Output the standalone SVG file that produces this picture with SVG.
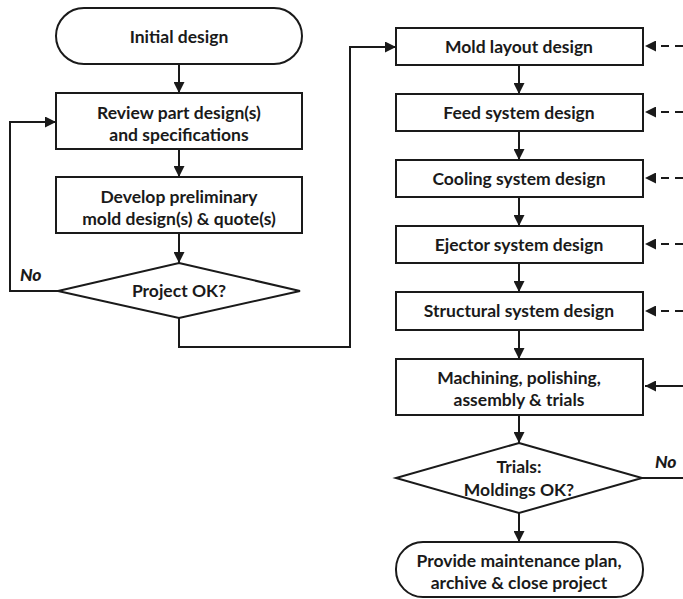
<svg xmlns="http://www.w3.org/2000/svg" width="683" height="599" viewBox="0 0 683 599">
<style>
.n{fill:#fff;stroke:#1a1a1a;stroke-width:2}
.t{font-family:Lato,"Open Sans",sans-serif;font-weight:bold;font-size:17.5px;fill:#1a1a1a;text-anchor:middle}
.c{fill:none;stroke:#1a1a1a;stroke-width:2}
.d{stroke-dasharray:8,6}
.l{font-family:Lato,"Open Sans",sans-serif;font-weight:900;font-style:italic;font-size:17.5px;fill:#1a1a1a}
</style>
<defs>
<marker id="a" viewBox="0 0 10 10" refX="10" refY="5" markerWidth="5.5" markerHeight="5.5" orient="auto" markerUnits="strokeWidth"><path d="M0,0L10,5L0,10z" fill="#1a1a1a"/></marker>
</defs>
<g id="connectors">
<path class="c" d="M179,64V93" marker-end="url(#a)"/>
<path class="c" d="M179,149V177" marker-end="url(#a)"/>
<path class="c" d="M179,233V263" marker-end="url(#a)"/>
<path class="c" d="M58,291H10V122H56" marker-end="url(#a)"/>
<path class="c" d="M179,318V347H350V47H396" marker-end="url(#a)"/>
<path class="c" d="M519,65V94" marker-end="url(#a)"/>
<path class="c" d="M519,131V160" marker-end="url(#a)"/>
<path class="c" d="M519,197V226" marker-end="url(#a)"/>
<path class="c" d="M519,263V292" marker-end="url(#a)"/>
<path class="c" d="M519,330V359" marker-end="url(#a)"/>
<path class="c" d="M519,415V443" marker-end="url(#a)"/>
<path class="c" d="M519,513V542" marker-end="url(#a)"/>
<path class="c d" d="M683,46H645" marker-end="url(#a)"/>
<path class="c d" d="M683,112H645" marker-end="url(#a)"/>
<path class="c d" d="M683,178H645" marker-end="url(#a)"/>
<path class="c d" d="M683,244H645" marker-end="url(#a)"/>
<path class="c d" d="M683,311H645" marker-end="url(#a)"/>
<path class="c" d="M683,386H645" marker-end="url(#a)"/>
<path class="c" d="M642,478H683"/>
<text class="l" x="20" y="281">No</text>
<text class="l" x="655" y="468">No</text>
</g>
<g id="initial"><rect class="n" x="56" y="8" width="246" height="56" rx="28"/><text class="t" x="179" y="43">Initial design</text></g>
<g id="review"><rect class="n" x="56" y="93" width="246" height="56"/><text class="t" x="179" y="119">Review part design(s)</text><text class="t" x="179" y="141">and specifications</text></g>
<g id="develop"><rect class="n" x="56" y="177" width="246" height="56"/><text class="t" x="179" y="203">Develop preliminary</text><text class="t" x="179" y="225">mold design(s) &amp; quote(s)</text></g>
<g id="projectok"><path class="n" d="M179,263L300,291L179,318L58,291z"/><text class="t" x="179" y="297">Project OK?</text></g>
<g id="moldlayout"><rect class="n" x="396" y="28" width="247" height="37"/><text class="t" x="519" y="53">Mold layout design</text></g>
<g id="feed"><rect class="n" x="396" y="94" width="247" height="37"/><text class="t" x="519" y="119">Feed system design</text></g>
<g id="cooling"><rect class="n" x="396" y="160" width="247" height="37"/><text class="t" x="519" y="185">Cooling system design</text></g>
<g id="ejector"><rect class="n" x="396" y="226" width="247" height="37"/><text class="t" x="519" y="251">Ejector system design</text></g>
<g id="structural"><rect class="n" x="396" y="292" width="247" height="38"/><text class="t" x="519" y="317">Structural system design</text></g>
<g id="machining"><rect class="n" x="396" y="359" width="247" height="56"/><text class="t" x="519" y="384">Machining, polishing,</text><text class="t" x="519" y="406">assembly &amp; trials</text></g>
<g id="trials"><path class="n" d="M519,443L642,478L519,513L396,478z"/><text class="t" x="519" y="473">Trials:</text><text class="t" x="519" y="496">Moldings OK?</text></g>
<g id="end"><rect class="n" x="396" y="542" width="247" height="55" rx="27"/><text class="t" x="519" y="567">Provide maintenance plan,</text><text class="t" x="519" y="589">archive &amp; close project</text></g>
</svg>
